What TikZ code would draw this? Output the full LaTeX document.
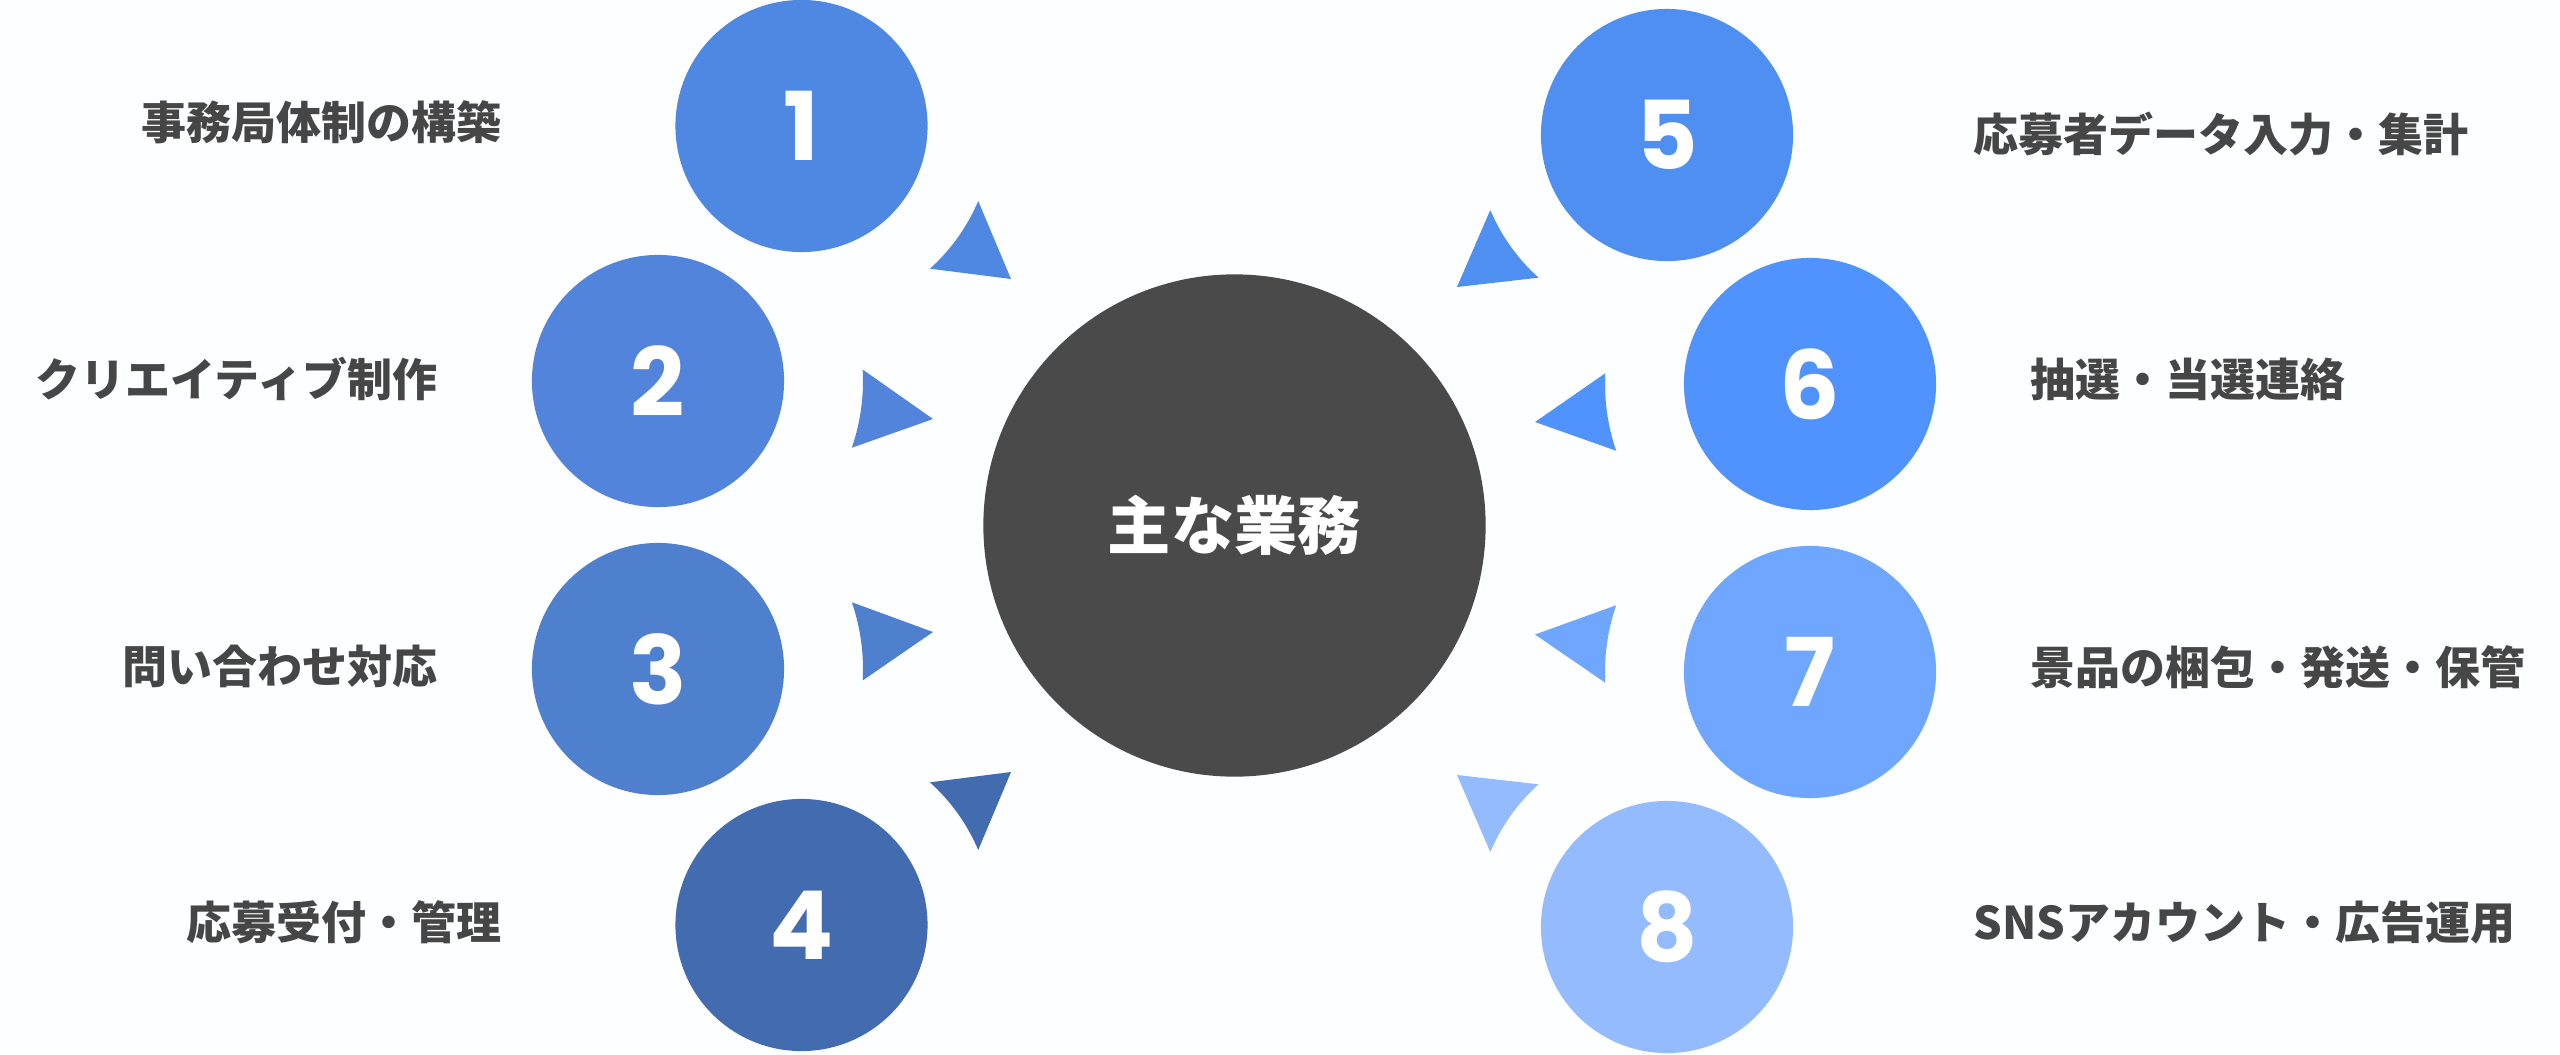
\documentclass[tikz,border=0pt]{standalone}
\usepackage{fontspec}
\setmainfont{Noto Sans CJK JP}
\newfontfamily\numfont{Poppins}
\usetikzlibrary{calc}
\definecolor{bgc}{HTML}{FDFEFF}
\definecolor{mainc}{HTML}{4A4A4A}
\definecolor{labc}{HTML}{464646}
\definecolor{cA}{HTML}{4F88E3}
\definecolor{cB}{HTML}{5184DA}
\definecolor{cC}{HTML}{4F80CE}
\definecolor{cD}{HTML}{436BAF}
\definecolor{cE}{HTML}{4F8FF2}
\definecolor{cF}{HTML}{5093FF}
\definecolor{cG}{HTML}{6FA6FF}
\definecolor{cH}{HTML}{95BBFF}
\newcommand\ringarrow[6]{%
  \fill[#1] ($(#2.center)+(#3:#5)$) -- (#6) -- ($(#2.center)+(#4:#5)$)
    arc[start angle=#4, end angle=#3, radius=#5] -- cycle;}
\begin{document}
\begin{tikzpicture}[x=0.01cm,y=-0.01cm,
  smallc/.style={circle, minimum size=2.52cm, inner sep=0pt, text=white,
    font=\numfont\bfseries\fontsize{27pt}{27pt}\selectfont},
  mainnode/.style={circle, fill=mainc, minimum size=5.02cm, inner sep=0pt, text=white,
    font=\bfseries\fontsize{18pt}{18pt}\selectfont},
  labl/.style={text=labc, inner sep=0pt, anchor=east,
    font=\bfseries\fontsize{12.8pt}{13pt}\selectfont},
  labr/.style={text=labc, inner sep=0pt, anchor=west,
    font=\bfseries\fontsize{12.8pt}{13pt}\selectfont}]
\useasboundingbox (0,0) rectangle (2560,1054);
\fill[bgc] (0,0) rectangle (2560,1054);

\node[mainnode] (main) at (1234.5,525.5) {主な業務};

\node[smallc, fill=cA] (c1) at (801.5,126) {1};
\node[smallc, fill=cB] (c2) at (658,381) {2};
\node[smallc, fill=cC] (c3) at (658,669) {3};
\node[smallc, fill=cD] (c4) at (801.5,925) {4};
\node[smallc, fill=cE] (c5) at (1667,135) {5};
\node[smallc, fill=cF] (c6) at (1810,384) {6};
\node[smallc, fill=cG] (c7) at (1810,672) {7};
\node[smallc, fill=cH] (c8) at (1667,927) {8};

\coordinate (t1) at (1011,279);
\coordinate (t2) at (933,419);
\coordinate (t3) at (933,632);
\coordinate (t4) at (1011,772);
\coordinate (t5) at (1457,287);
\coordinate (t6) at (1535,422);
\coordinate (t7) at (1535,634.5);
\coordinate (t8) at (1457,775);

\ringarrow{cA}{c1}{23}{48}{192}{t1}
\ringarrow{cB}{c2}{-3.2}{19}{205}{t2}
\ringarrow{cC}{c3}{-19}{3.2}{205}{t3}
\ringarrow{cD}{c4}{-48}{-23}{192}{t4}
\ringarrow{cE}{c5}{132}{157}{192}{t5}
\ringarrow{cF}{c6}{161}{183}{205}{t6}
\ringarrow{cG}{c7}{177}{199}{205}{t7}
\ringarrow{cH}{c8}{203}{228}{192}{t8}

\node[labl] (l1) at (502,122.5) {事務局体制の構築};
\node[labl] (l2) at (438,379) {クリエイティブ制作};
\node[labl] (l3) at (438,666) {問い合わせ対応};
\node[labl] (l4) at (502,922) {応募受付・管理};
\node[labr] (l5) at (1973,134) {応募者データ入力・集計};
\node[labr] (l6) at (2030,379) {抽選・当選連絡};
\node[labr] (l7) at (2030,667) {景品の梱包・発送・保管};
\node[labr] (l8) at (1973,922.5) {SNSアカウント・広告運用};
\end{tikzpicture}
\end{document}
